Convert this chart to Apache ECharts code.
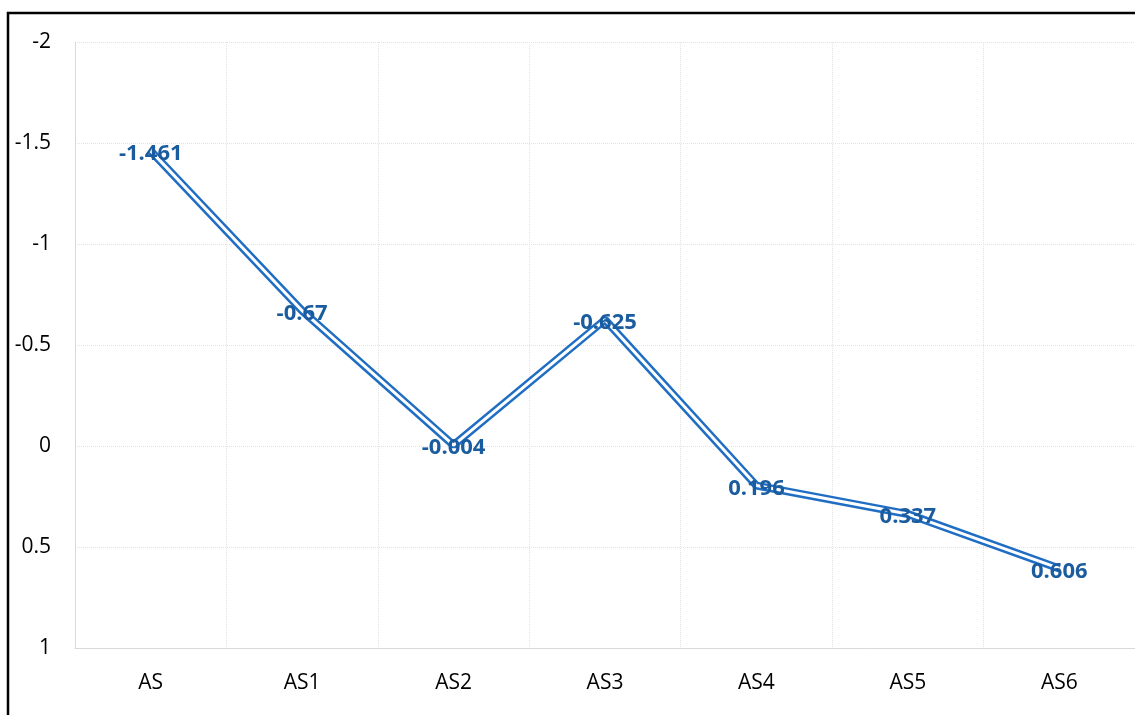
<!DOCTYPE html>
<html>
<head>
<meta charset="utf-8">
<script src="https://cdn.jsdelivr.net/npm/echarts@6/dist/echarts.min.js"></script>
<style>
html,body{margin:0;padding:0;background:#fff;}
#main{width:1135px;height:715px;}
</style>
</head>
<body>
<div id="main"></div>
<script>
var categories = ["AS", "AS1", "AS2", "AS3", "AS4", "AS5", "AS6"];
var values = [-1.461, -0.67, -0.004, -0.625, 0.196, 0.337, 0.606];

var chart = echarts.init(document.getElementById("main"));
var font = "Open Sans";
chart.setOption({
    animation: false,
    backgroundColor: "#fff",
    grid: {left: 75, right: 0, top: 42, bottom: 67},
    graphic: [{
        type: "rect",
        shape: {x: 8, y: 13, width: 1300, height: 900},
        style: {fill: null, stroke: "#000", lineWidth: 2.5},
        z: 100
    }],
    xAxis: {
        type: "category",
        data: categories,
        boundaryGap: true,
        axisLine: {show: true, onZero: false, lineStyle: {color: "#d9d9d9", width: 1}},
        axisTick: {show: false},
        axisLabel: {color: "#000", fontSize: 21, fontFamily: font, margin: 25},
        splitLine: {show: true, lineStyle: {color: "#e3e3e3", type: "dotted", width: 1}}
    },
    yAxis: {
        type: "value",
        inverse: true,
        min: -2,
        max: 1,
        interval: 0.5,
        axisLine: {show: true, lineStyle: {color: "#d9d9d9", width: 1}},
        axisTick: {show: false},
        axisLabel: {color: "#000", fontSize: 21, fontFamily: font, margin: 24},
        splitLine: {show: true, lineStyle: {color: "#e3e3e3", type: "dotted", width: 1}}
    },
    series: [{
        type: "line",
        data: values,
        symbol: "none",
        lineStyle: {color: "#1f6ec4", width: 8},
        z: 2
    }, {
        type: "line",
        data: values,
        symbol: "circle",
        symbolSize: 1,
        itemStyle: {color: "rgba(0,0,0,0)"},
        lineStyle: {color: "#fff", width: 3},
        label: {
            show: true,
            position: "inside",
            offset: [0, 3],
            color: "#1a5c9e",
            fontSize: 22,
            fontWeight: "bold",
            fontFamily: font
        },
        z: 3
    }]
});
</script>
</body>
</html>
